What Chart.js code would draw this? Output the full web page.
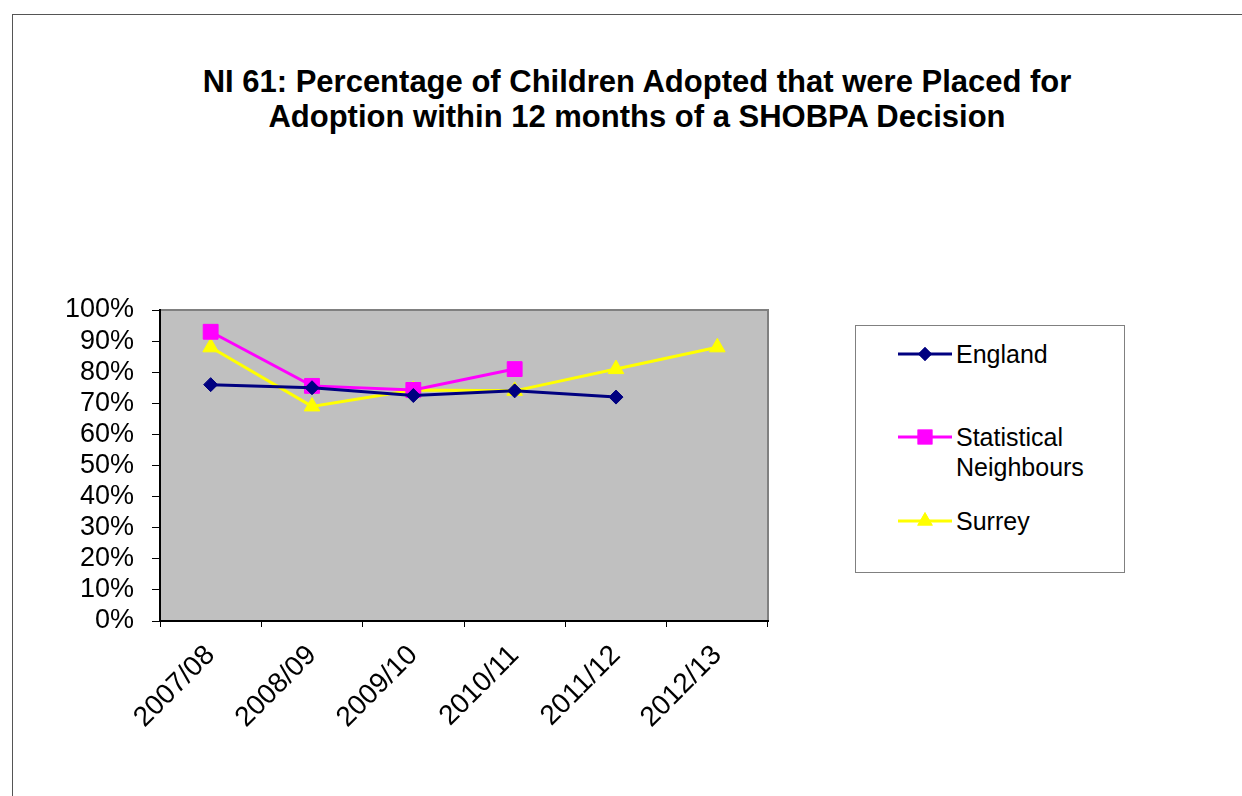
<!DOCTYPE html>
<html>
<head>
<meta charset="utf-8">
<script src="https://cdn.jsdelivr.net/npm/chart.js@4.4.1/dist/chart.umd.min.js"></script>
<style>
  body { margin: 0; background: #fff; font-family: "Liberation Sans", Arial, sans-serif; }
  #wrap { position: relative; width: 1242px; height: 796px; overflow: hidden; }
  #frame { position: absolute; left: 12px; top: 14px; width: 1300px; height: 900px;
           border-top: 1px solid #555; border-left: 1px solid #555; }
  #title { position: absolute; left: 0; width: 1274px; top: 64px; text-align: center;
           font-weight: bold; font-size: 31px; line-height: 35px; color: #000; }
  #legend { position: absolute; left: 855px; top: 325px; width: 268px; height: 246px;
            border: 1px solid #808080; background: #fff; }
  .item { position: absolute; left: 42px; font-size: 25px; line-height: 30px; color: #000; }
  .item canvas { position: absolute; left: 0; top: 0; }
  .item span { position: absolute; left: 58px; top: 0; white-space: nowrap; }
  canvas#chart { position: absolute; left: 0; top: 0; }
</style>
</head>
<body>
<div id="wrap">
  <div id="frame"></div>
  <div id="title">NI 61: Percentage of Children Adopted that were Placed for<br>Adoption within 12 months of a SHOBPA Decision</div>
  <canvas id="chart" width="1242" height="796"></canvas>
  <div id="legend"></div>
</div>
<script>
const labels = ["2007/08", "2008/09", "2009/10", "2010/11", "2011/12", "2012/13"];
const england = [76, 75, 72.5, 74, 72, null];
const statNeighbours = [93, 75.6, 74.3, 81, null, null];
const surrey = [88, 69, 74.3, 74, 81, 88];
const yTicks = [0, 10, 20, 30, 40, 50, 60, 70, 80, 90, 100];

const series = [
  { label: "England", data: england, color: "#000080", point: "rectRot", radius: 7 },
  { label: "Statistical\nNeighbours", data: statNeighbours, color: "#FF00FF", point: "rect", radius: 10.5 },
  { label: "Surrey", data: surrey, color: "#FFFF00", point: "triangle", radius: 9 },
];

const plotBg = {
  id: "plotBg",
  beforeDraw(chart) {
    const { ctx, chartArea: a } = chart;
    ctx.save();
    ctx.fillStyle = "#C0C0C0";
    ctx.fillRect(a.left, a.top, a.width, a.height);
    ctx.strokeStyle = "#808080";
    ctx.lineWidth = 2;
    ctx.strokeRect(a.left, a.top, a.width, a.height);
    ctx.restore();
  },
};

const tickFont = { family: "'Liberation Sans', Arial", size: 27 };

const chart = new Chart(document.getElementById("chart"), {
  type: "line",
  data: {
    labels: labels,
    datasets: series.map((s) => ({
      label: s.label,
      data: s.data,
      borderColor: s.color,
      backgroundColor: s.color,
      borderWidth: 3,
      pointStyle: s.point,
      pointRadius: s.radius,
      pointBorderWidth: 1,
      pointBorderColor: s.color,
      spanGaps: false,
      tension: 0,
    })),
  },
  options: {
    responsive: false,
    animation: false,
    layout: { padding: { top: 310, right: 474, bottom: 0, left: 0 } },
    plugins: { legend: { display: false }, tooltip: { enabled: false } },
    scales: {
      x: {
        offset: true,
        grid: { offset: true, drawOnChartArea: false, drawTicks: true, tickLength: 6, color: "#000" },
        border: { color: "#000", width: 2 },
        ticks: {
          color: "#000",
          font: { family: "'Liberation Sans', Arial", size: 28 },
          minRotation: 45,
          maxRotation: 45,
          autoSkip: false,
          padding: 12,
        },
        afterFit(scale) { scale.height = 175; },
      },
      y: {
        min: 0,
        max: 100,
        afterBuildTicks(scale) { scale.ticks = yTicks.map((v) => ({ value: v })); },
        grid: { drawOnChartArea: false, drawTicks: true, tickLength: 8, color: "#000" },
        border: { color: "#000", width: 2 },
        ticks: {
          color: "#000",
          font: tickFont,
          autoSkip: false,
          padding: 18,
          callback: (v) => v + "%",
        },
        afterFit(scale) { scale.width = 160; },
      },
    },
  },
  plugins: [plotBg],
});

// legend box built from the series
const legend = document.getElementById("legend");
const tops = [13, 96, 180];
series.forEach((s, i) => {
  const item = document.createElement("div");
  item.className = "item";
  item.style.top = tops[i] + "px";
  const c = document.createElement("canvas");
  c.width = 54; c.height = 30;
  const ctx = c.getContext("2d");
  ctx.strokeStyle = s.color;
  ctx.lineWidth = 3;
  ctx.beginPath(); ctx.moveTo(0, 15); ctx.lineTo(54, 15); ctx.stroke();
  ctx.fillStyle = s.color;
  Chart.helpers.drawPoint(ctx, { pointStyle: s.point, radius: s.radius, rotation: 0, borderWidth: 0 }, 27, 15);
  ctx.fill();
  item.appendChild(c);
  const t = document.createElement("span");
  t.innerHTML = s.label.replace("\n", "<br>");
  item.appendChild(t);
  legend.appendChild(item);
});
</script>
</body>
</html>
